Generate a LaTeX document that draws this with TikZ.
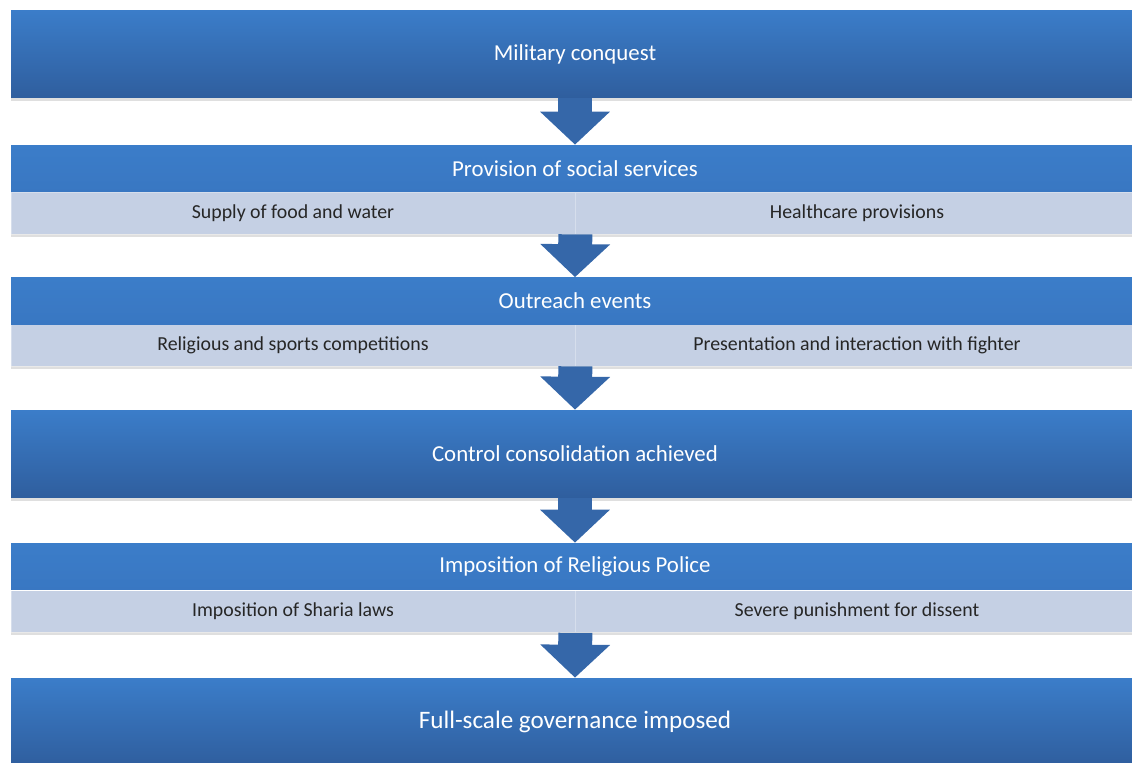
\documentclass[tikz,border=0pt]{standalone}
\usepackage{fontspec}
\setmainfont{Carlito}
\usepackage{tikz}
\usetikzlibrary{arrows.meta,shadows}
\definecolor{barblue}{HTML}{3B7DC9}
\definecolor{bardark}{HTML}{2F5E9E}
\definecolor{headblue}{HTML}{3977C2}
\definecolor{subgrey}{HTML}{C5D0E4}
\definecolor{arrowblue}{HTML}{3567A9}
\definecolor{subtext}{HTML}{262626}

\begin{document}
\begin{tikzpicture}[x=0.02cm, y=-0.02cm,
	bigbar/.style={rectangle, inner sep=0pt, minimum width=22.56cm, minimum height=1.76cm, top color=barblue, bottom color=bardark, text=white, font=\fontsize{13}{15}\selectfont, drop shadow={shadow xshift=0pt, shadow yshift=-1.5pt, opacity=0.25}},
	headbar/.style={rectangle, inner sep=0pt, minimum width=22.56cm, minimum height=0.94cm, top color=barblue, bottom color=headblue, text=white, font=\fontsize{13}{15}\selectfont},
	subbar/.style={rectangle, inner sep=0pt, minimum width=11.28cm, minimum height=0.84cm, fill=subgrey, draw=white, draw opacity=0.3, line width=0.4pt, text=subtext, font=\fontsize{11.3}{13}\selectfont, drop shadow={shadow xshift=0pt, shadow yshift=-1.5pt, opacity=0.25}},
	flow/.style={line width=0.68cm, draw=arrowblue, -{Triangle[width=1.36cm, length=0.66cm]}}]
		\useasboundingbox (0,0) rectangle (1132,763);
		\clip (0,0) rectangle (1132,763);
		\node[bigbar] (conquest) at (575,54) {Military conquest};
		\node[subbar] (food) at (293,213) {Supply of food and water};
		\node[subbar] (health) at (857,213) {Healthcare provisions};
		\node[headbar] (services) at (575,168.5) {Provision of social services};
		\node[subbar] (sports) at (293,345) {Religious and sports competitions};
		\node[subbar] (fighter) at (857,345) {Presentation and interaction with fighter};
		\node[headbar] (outreach) at (575,301) {Outreach events};
		\node[bigbar] (control) at (575,454) {Control consolidation achieved};
		\node[subbar] (sharia) at (293,611.5) {Imposition of Sharia laws};
		\node[subbar] (dissent) at (857,611.5) {Severe punishment for dissent};
		\node[headbar] (police) at (575,566.5) {Imposition of Religious Police};
		\node[bigbar, font=\fontsize{14.3}{17}\selectfont] (governance) at (575,722) {Full-scale governance imposed};
		\draw[flow] (conquest.south) -- (services.north);
		\draw[flow] (food.south east) -- (outreach.north);
		\draw[flow] (sports.south east) -- (control.north);
		\draw[flow] (control.south) -- (police.north);
		\draw[flow] (sharia.south east) -- (governance.north);
\end{tikzpicture}
\end{document}
